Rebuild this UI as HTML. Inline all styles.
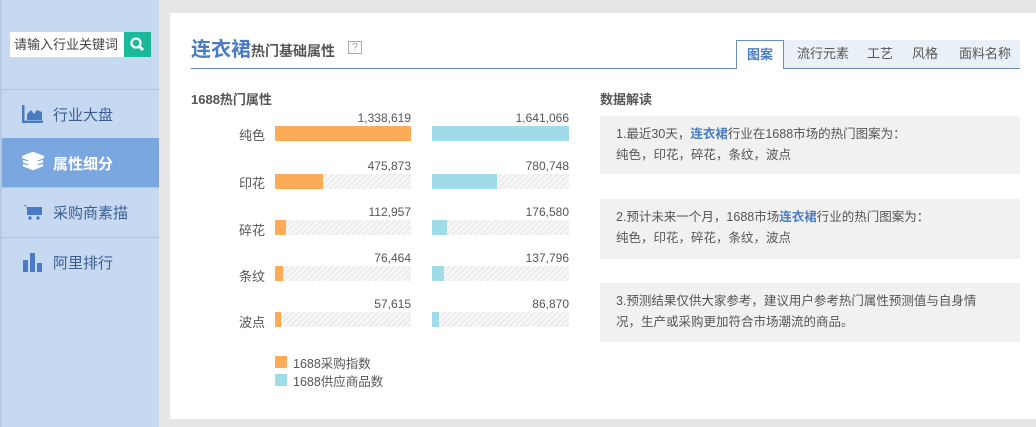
<!DOCTYPE html>
<html><head><meta charset="utf-8"><style>
*{margin:0;padding:0;box-sizing:border-box}
body{width:1036px;height:427px;background:#e6e6e6;position:relative;overflow:hidden;font-family:"Liberation Sans","Noto Sans CJK SC",sans-serif;color:#555}
.a{position:absolute;white-space:nowrap}
.sb{left:0;top:0;width:159px;height:427px;background:#c6d9f0;border-left:2px solid #b5c9e2}
.ln{left:2px;width:157px;height:1px;background:#aec4e2}
.nav{left:53px;font-size:15px;color:#3b5f94}
.panel{left:170px;top:13px;width:866px;height:406px;background:#fff}
.bg{background:repeating-linear-gradient(135deg,#ececec 0 2px,#f8f8f8 2px 4px)}
.v{font-size:12px;color:#555;text-align:right}
.lb{font-size:13px;color:#555}
.box{left:600px;width:420px;background:#f1f1f1;font-size:12.5px;color:#555;line-height:21px;padding:8px 16px}
.tab{top:40px;height:28px;font-size:13px;color:#555;line-height:28px}
</style></head><body>
<div class="a sb"></div>
<div class="a" style="left:10px;top:32px;width:114px;height:25px;background:#fff;font-size:13px;color:#444;line-height:25px;padding-left:4px">请输入行业关键词</div>
<div class="a" style="left:124px;top:32px;width:27px;height:25px;background:#1bb99a"><svg width="27" height="25"><circle cx="12" cy="11" r="4.5" stroke="#fff" stroke-width="2.2" fill="none"/><line x1="15" y1="14" x2="19" y2="18" stroke="#fff" stroke-width="3"/></svg></div>
<div class="a ln" style="top:89px"></div>
<div class="a ln" style="top:187px"></div>
<div class="a ln" style="top:237px"></div>
<div class="a" style="left:2px;top:138px;width:157px;height:49px;background:#7ba7e1"></div>
<svg class="a" style="left:22px;top:104px" width="22" height="19"><path d="M1 1V18H21" stroke="#4a7cc4" stroke-width="3" fill="none"/><path d="M5 16V10L9 6L12 10L15 6L20 8V16Z" fill="#4a7cc4"/></svg>
<div class="a nav" style="top:104px">行业大盘</div>
<svg class="a" style="left:22px;top:152px" width="22" height="20"><path d="M11 1L21 5L11 9L1 5Z M1 9L11 13L21 9 M1 13L11 17L21 13" stroke="#fff" stroke-width="2.5" fill="#fff"/></svg>
<div class="a nav" style="top:153px;color:#fff;font-weight:bold">属性细分</div>
<svg class="a" style="left:22px;top:203px" width="22" height="18"><path d="M1 2H4L6 12H18L20 4H5" fill="#4a7cc4"/><rect x="5" y="4" width="15" height="8" fill="#4a7cc4"/><circle cx="8" cy="15" r="1.7" fill="#4a7cc4"/><circle cx="16" cy="15" r="1.7" fill="#4a7cc4"/></svg>
<div class="a nav" style="top:202px">采购商素描</div>
<svg class="a" style="left:22px;top:251px" width="22" height="21"><rect x="1" y="9" width="5" height="12" fill="#4a7cc4"/><rect x="8" y="2" width="5" height="19" fill="#4a7cc4"/><rect x="15" y="12" width="5" height="9" fill="#4a7cc4"/></svg>
<div class="a nav" style="top:252px">阿里排行</div>

<div class="a panel"></div>
<div class="a" style="left:191px;top:33px;font-size:20px;font-weight:bold;color:#4a7cc4">连衣裙<span style="font-size:14px;color:#555">热门基础属性</span></div>
<div class="a" style="left:348px;top:41px;width:14px;height:13px;border:1px solid #aaa;font-size:10px;color:#999;text-align:center;line-height:11px">?</div>
<div class="a" style="left:191px;top:68px;width:829px;height:1px;background:#6d8db9"></div>
<div class="a" style="left:736px;top:40px;width:284px;height:28px;background:#eaf0f8"></div>
<div class="a tab" style="left:736px;width:48px;background:#fff;border:1px solid #6d8db9;border-bottom:none;height:29px;text-align:center;color:#4a7cc4;font-weight:bold">图案</div>
<div class="a tab" style="left:797px">流行元素</div>
<div class="a tab" style="left:867px">工艺</div>
<div class="a tab" style="left:912px">风格</div>
<div class="a tab" style="left:959px">面料名称</div>

<div class="a" style="left:191px;top:89px;font-size:13px;font-weight:bold;color:#555">1688热门属性</div>
<div class="a" style="left:600px;top:89px;font-size:13px;font-weight:bold;color:#555">数据解读</div>

<!-- rows -->
<div id="rows"></div>
<script></script>
<div class="a lb" style="left:239px;top:125px">纯色</div>
<div class="a v" style="left:311px;top:111px;width:100px">1,338,619</div>
<div class="a v" style="left:469px;top:111px;width:100px">1,641,066</div>
<div class="a bg" style="left:275px;top:126px;width:136px;height:15px"><div style="width:136px;height:15px;background:#ffab57"></div></div>
<div class="a bg" style="left:432px;top:126px;width:137px;height:15px"><div style="width:137px;height:15px;background:#9fdbe9"></div></div>

<div class="a lb" style="left:239px;top:173px">印花</div>
<div class="a v" style="left:311px;top:159px;width:100px">475,873</div>
<div class="a v" style="left:469px;top:159px;width:100px">780,748</div>
<div class="a bg" style="left:275px;top:174px;width:136px;height:15px"><div style="width:48px;height:15px;background:#ffab57"></div></div>
<div class="a bg" style="left:432px;top:174px;width:137px;height:15px"><div style="width:65px;height:15px;background:#9fdbe9"></div></div>

<div class="a lb" style="left:239px;top:220px">碎花</div>
<div class="a v" style="left:311px;top:205px;width:100px">112,957</div>
<div class="a v" style="left:469px;top:205px;width:100px">176,580</div>
<div class="a bg" style="left:275px;top:220px;width:136px;height:15px"><div style="width:11px;height:15px;background:#ffab57"></div></div>
<div class="a bg" style="left:432px;top:220px;width:137px;height:15px"><div style="width:15px;height:15px;background:#9fdbe9"></div></div>

<div class="a lb" style="left:239px;top:266px">条纹</div>
<div class="a v" style="left:311px;top:251px;width:100px">76,464</div>
<div class="a v" style="left:469px;top:251px;width:100px">137,796</div>
<div class="a bg" style="left:275px;top:266px;width:136px;height:15px"><div style="width:8px;height:15px;background:#ffab57"></div></div>
<div class="a bg" style="left:432px;top:266px;width:137px;height:15px"><div style="width:12px;height:15px;background:#9fdbe9"></div></div>

<div class="a lb" style="left:239px;top:312px">波点</div>
<div class="a v" style="left:311px;top:297px;width:100px">57,615</div>
<div class="a v" style="left:469px;top:297px;width:100px">86,870</div>
<div class="a bg" style="left:275px;top:312px;width:136px;height:15px"><div style="width:6px;height:15px;background:#ffab57"></div></div>
<div class="a bg" style="left:432px;top:312px;width:137px;height:15px"><div style="width:7px;height:15px;background:#9fdbe9"></div></div>

<div class="a" style="left:275px;top:356px;width:12px;height:12px;background:#ffab57"></div>
<div class="a lb" style="left:293px;top:353px;font-size:12.5px">1688采购指数</div>
<div class="a" style="left:275px;top:374px;width:12px;height:12px;background:#9fdbe9"></div>
<div class="a lb" style="left:293px;top:371px;font-size:12.5px">1688供应商品数</div>

<div class="a box" style="top:116px;height:58px">1.最近30天，<b style="color:#4a7cc4">连衣裙</b>行业在1688市场的热门图案为：<br>纯色，印花，碎花，条纹，波点</div>
<div class="a box" style="top:199px;height:60px">2.预计未来一个月，1688市场<b style="color:#4a7cc4">连衣裙</b>行业的热门图案为：<br>纯色，印花，碎花，条纹，波点</div>
<div class="a box" style="top:283px;height:59px">3.预测结果仅供大家参考，建议用户参考热门属性预测值与自身情<br>况，生产或采购更加符合市场潮流的商品。</div>
</body></html>
